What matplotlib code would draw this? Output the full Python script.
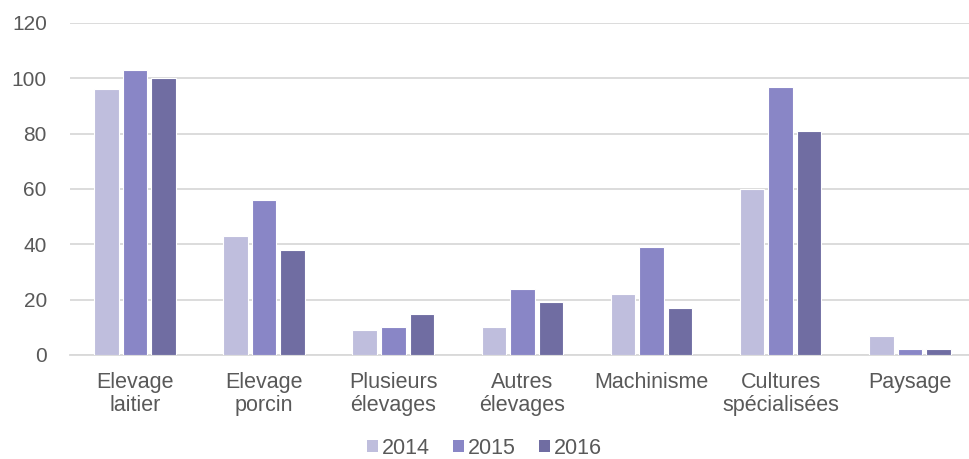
import matplotlib
matplotlib.use("Agg")
import matplotlib.pyplot as plt
import numpy as np
from matplotlib.patches import Patch

categories = ["Elevage\nlaitier", "Elevage\nporcin", "Plusieurs\nélevages", "Autres\nélevages",
              "Machinisme", "Cultures\nspécialisées", "Paysage"]
years = ["2014", "2015", "2016"]
v2014 = [96, 43, 9, 10, 22, 60, 7]
v2015 = [103, 56, 10, 24, 39, 97, 2]
v2016 = [100, 38, 15, 19, 17, 81, 2]
colors = ["#BFBEDD", "#8986C6", "#706DA2"]

plt.rcParams['font.family'] = ['Liberation Sans', 'DejaVu Sans']
fig = plt.figure(figsize=(9.69, 4.59), dpi=100)
ax = fig.add_axes([70.4/969, 1-355/459, 904/969, (355-23)/459])

x = np.arange(len(categories))
pitch = 0.221
width = 0.19
for i, (vals, c) in enumerate(zip([v2014, v2015, v2016], colors)):
    ax.bar(x + (i-1)*pitch, vals, width=width, color=c, edgecolor="white", linewidth=0.8, zorder=3)

ax.set_xlim(-0.5, len(categories)-0.5)
ax.set_ylim(0, 120)
ax.set_yticks(range(0, 121, 20))
ax.yaxis.grid(True, color="#D9D9D9", linewidth=1.3, zorder=0)
ax.set_axisbelow(True)
for s in ["top", "right", "left"]:
    ax.spines[s].set_visible(False)
ax.spines["bottom"].set_color("#D9D9D9")
ax.spines["bottom"].set_linewidth(1.3)
ax.tick_params(axis="both", length=0, labelcolor="#595959")
ax.tick_params(axis="y", pad=17, labelsize=15)
ax.tick_params(axis="x", pad=12.5, labelsize=15.5)
ax.set_xticks(x)
ax.set_xticklabels(categories, linespacing=1.1)

handles = [Patch(facecolor=c, edgecolor="none") for c in colors]
leg = fig.legend(handles, years, loc="center", bbox_to_anchor=(0.5, 1-448/459), ncol=3,
                 frameon=False, fontsize=15.5, handlelength=0.5, handleheight=0.5,
                 handletextpad=0.2, columnspacing=1.07, labelcolor="#595959",
                 borderpad=0, borderaxespad=0)

fig.savefig("out.png", dpi=100)
